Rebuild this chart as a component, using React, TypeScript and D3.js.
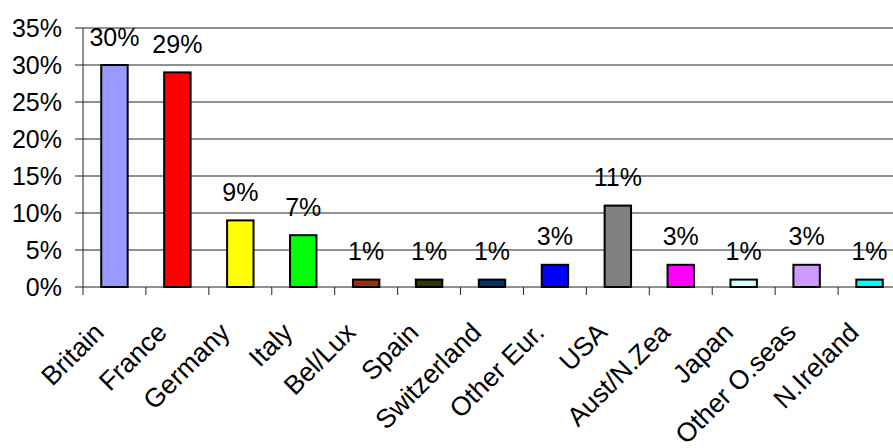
import React from "react";
import * as d3 from "d3";

const categories = [
  "Britain", "France", "Germany", "Italy", "Bel/Lux", "Spain", "Switzerland",
  "Other Eur.", "USA", "Aust/N.Zea", "Japan", "Other O.seas", "N.Ireland",
];
const shares = [30, 29, 9, 7, 1, 1, 1, 3, 11, 3, 1, 3, 1];
const barColors = [
  "#9999FF", "#FF0000", "#FFFF00", "#00FF00", "#993300", "#333300", "#003366",
  "#0000FF", "#808080", "#FF00FF", "#CCFFFF", "#CC99FF", "#00FFFF",
];
const yTicks = [0, 5, 10, 15, 20, 25, 30, 35];

const W = 893;
const H = 448;
const left = 83;
const right = 901;
const top = 28;
const bottom = 287;
const font = "'Liberation Sans', Arial, sans-serif";

export default function App() {
  const x = d3.scaleBand<string>().domain(categories).range([left, right]).paddingInner(0).paddingOuter(0);
  const y = d3.scaleLinear().domain([0, 35]).range([bottom, top]);
  const bw = x.bandwidth() * 0.42;

  return (
    <svg
      width={W}
      height={H}
      style={{ position: "absolute", left: 0, top: 0, background: "#fff" }}
      fontFamily={font}
    >
      {/* horizontal gridlines with left tick marks */}
      {yTicks.map((t) => (
        <g key={t}>
          <line x1={left - 8} x2={right} y1={y(t)} y2={y(t)} stroke="#222" strokeWidth={1} />
          <text x={62} y={y(t)} dy="0.36em" textAnchor="end" fontSize={25} fill="#000">
            {t}%
          </text>
        </g>
      ))}
      <line x1={left} x2={left} y1={top} y2={bottom} stroke="#222" strokeWidth={1} />
      {/* category separators below the axis */}
      {d3.range(categories.length + 1).map((i) => {
        const xx = left + i * x.step();
        return <line key={i} x1={xx} x2={xx} y1={bottom} y2={bottom + 8} stroke="#222" strokeWidth={1} />;
      })}
      {categories.map((c, i) => {
        const cx = (x(c) as number) + x.bandwidth() / 2;
        return (
          <g key={c}>
            <rect
              x={cx - bw / 2}
              y={y(shares[i])}
              width={bw}
              height={bottom - y(shares[i])}
              fill={barColors[i]}
              stroke="#000"
              strokeWidth={2}
            />
            <text x={cx} y={y(shares[i]) - 19.5} textAnchor="middle" fontSize={25} fill="#000">
              {shares[i]}%
            </text>
            <text
              transform={`translate(${cx - 9},${bottom + 47}) rotate(-45)`}
              textAnchor="end"
              fontSize={26.5}
              fill="#000"
            >
              {c}
            </text>
          </g>
        );
      })}
    </svg>
  );
}
